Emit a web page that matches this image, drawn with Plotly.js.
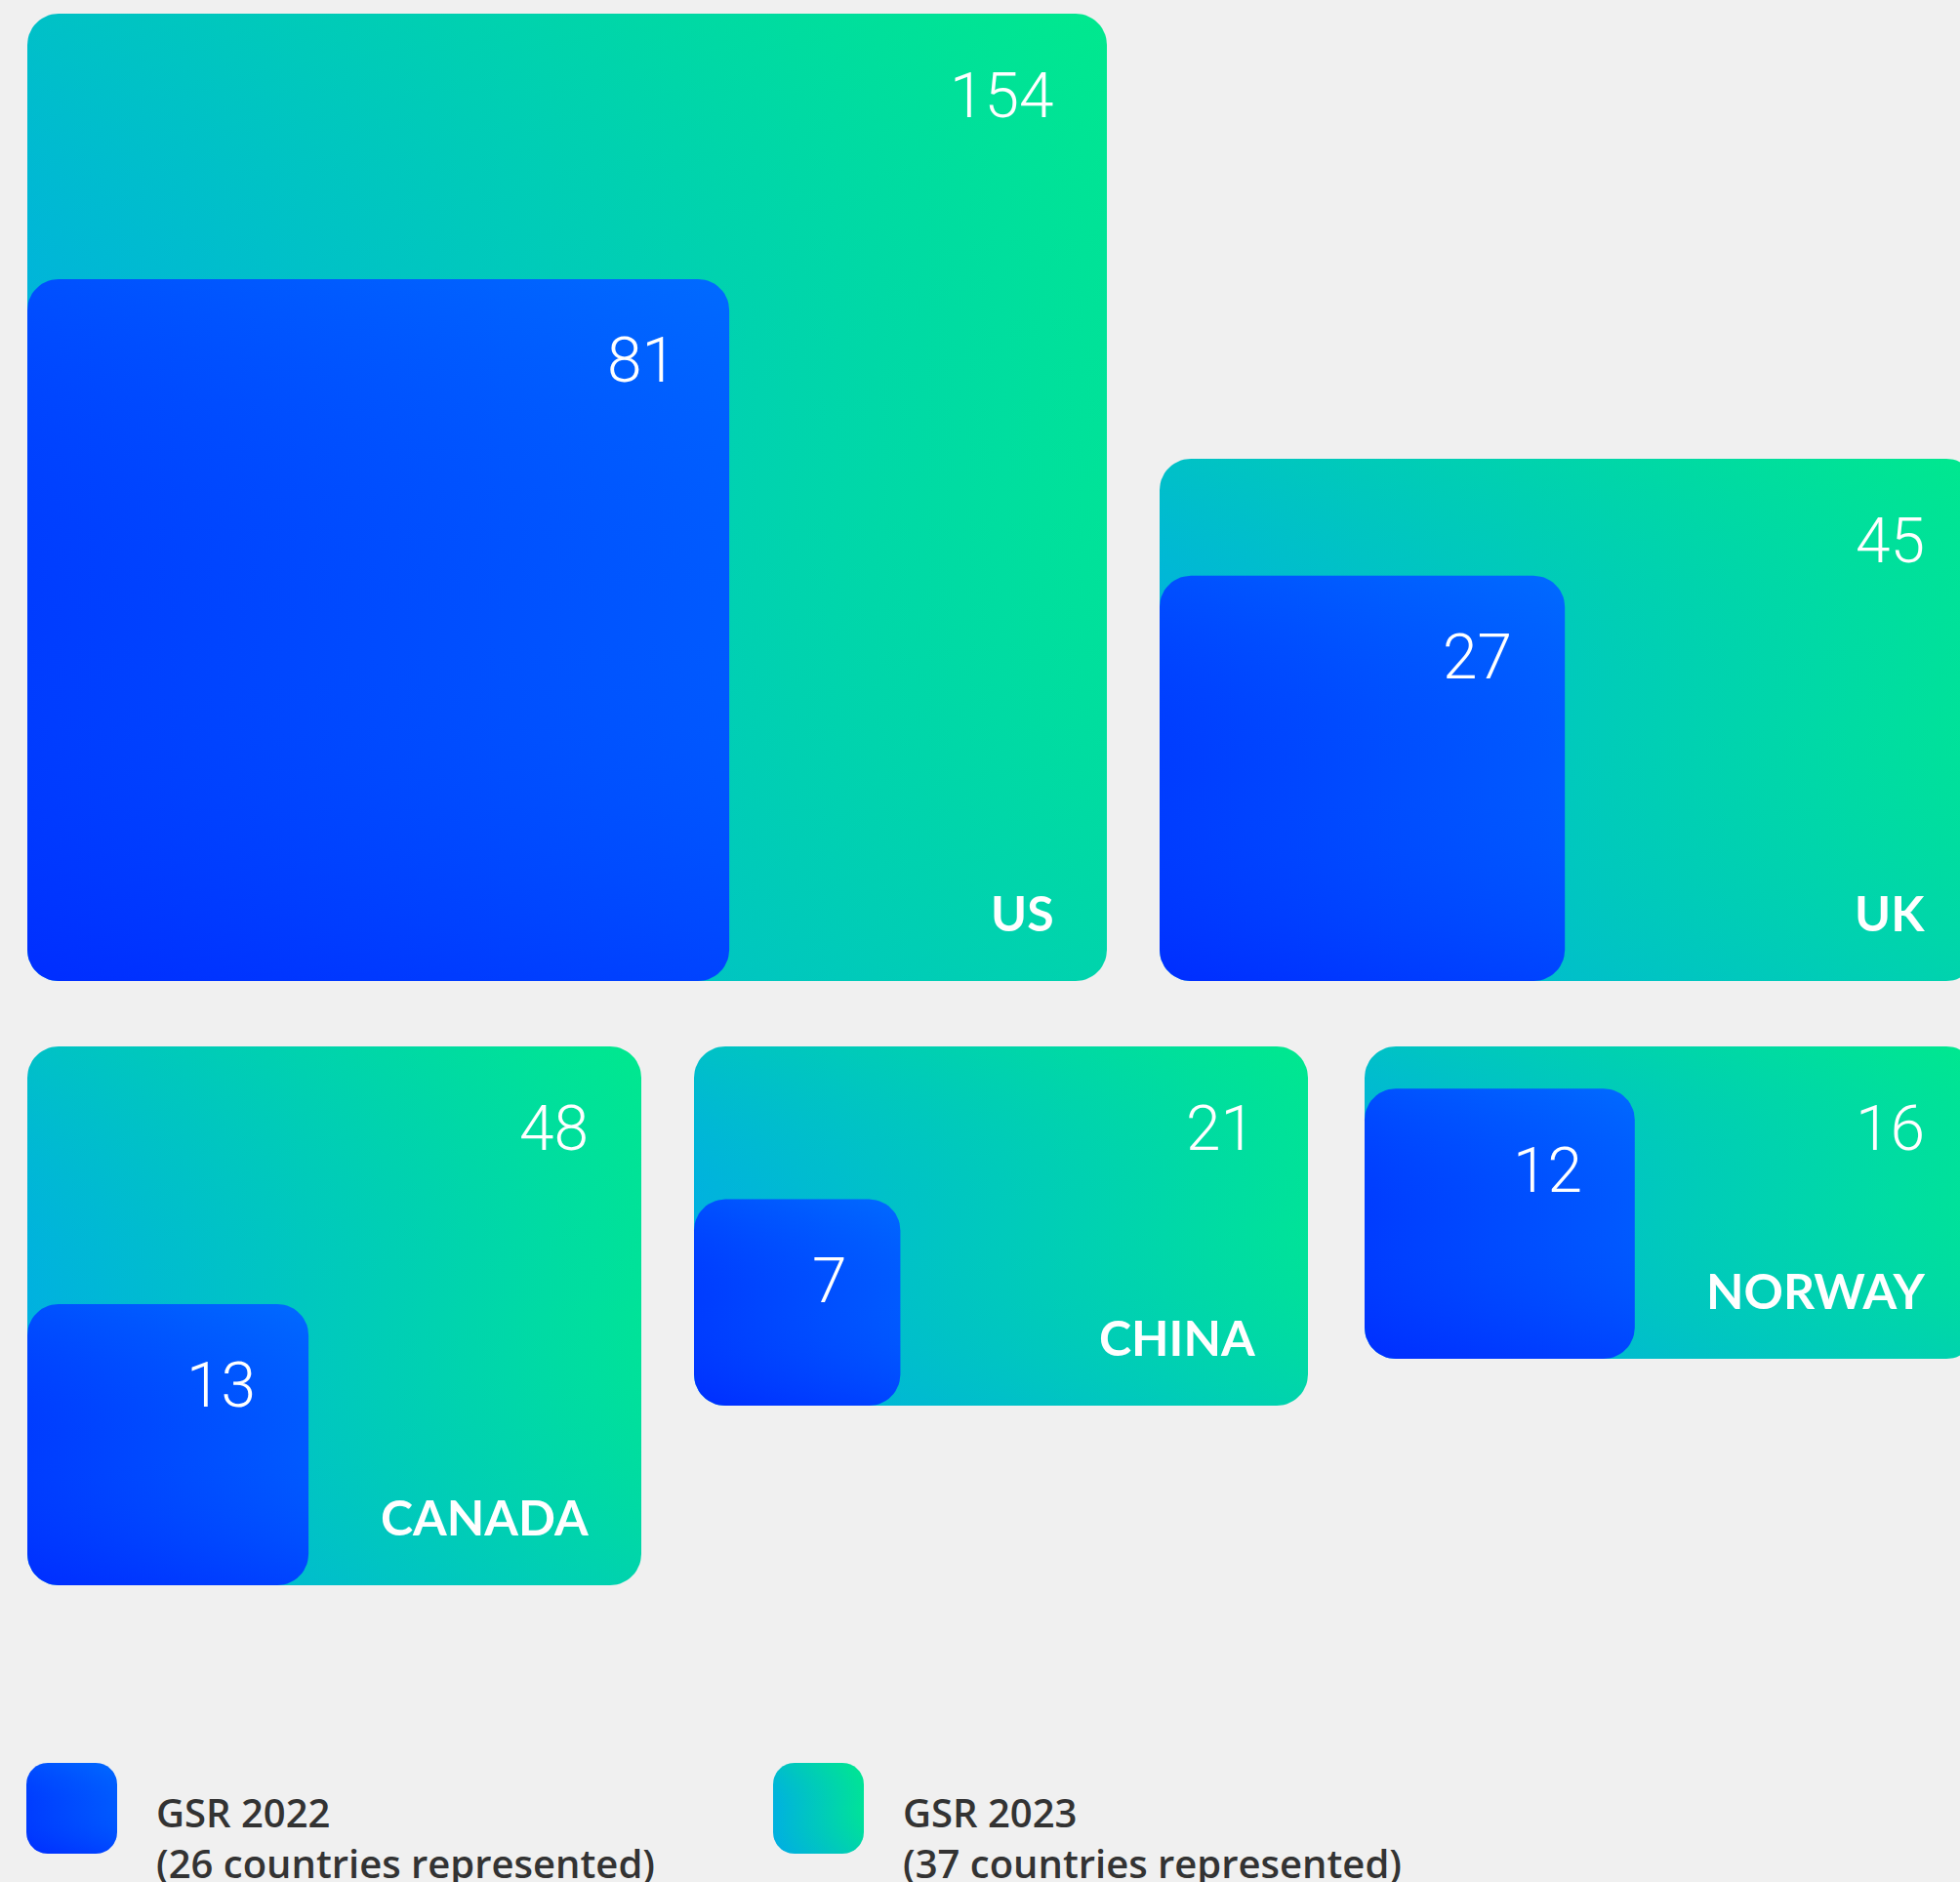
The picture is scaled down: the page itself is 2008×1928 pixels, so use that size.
<!DOCTYPE html>
<html>
<head>
<meta charset="utf-8">
<script src="https://cdn.plot.ly/plotly-3.0.1.min.js"></script>
<style>
  html, body { margin: 0; padding: 0; background: #f0f0f0; }
  #chart { width: 2008px; height: 1928px; }
</style>
</head>
<body>
<div id="chart"></div>
<script>
// ---------------- DATA ----------------
const countries = ['US', 'UK', 'CANADA', 'CHINA', 'NORWAY'];
const gsr2022 = [81, 27, 13, 7, 12];
const gsr2023 = [154, 45, 48, 21, 16];
const legendTitles = ['GSR 2022', 'GSR 2023'];
const legendNotes = ['(26 countries represented)', '(37 countries represented)'];

// ---------------- LAYOUT CONFIG (pixel-unit axes) ----------------
const W = 2008, H = 1928;
// outer (2023) card frames: [x0, y0, x1, y1]
const frames2023 = [
  [28, 14, 1134, 1005],
  [1188, 470, 2026, 1005],
  [28, 1072, 657, 1624],
  [711, 1072, 1340, 1440],
  [1398, 1072, 2026, 1392]
];
const SIDE_PER_SQRT = 79.9;   // 2022 squares: side = k * sqrt(value)
const RADIUS = 32;
const legendSwatches = [[27, 1806, 120, 1899], [792, 1806, 885, 1899]];
const legendTextX = [158, 923];

// gradient styles (vertical scale: 0 = bottom, 1 = top)
const grad2023 = {
  h: [[0, 'rgb(0,177,224)'], [1, 'rgb(0,227,152)']],
  v: [[0, 'rgba(0,150,255,0.2)'], [0.5, 'rgba(0,200,180,0)'], [1, 'rgba(0,255,100,0.2)']]
};
const grad2022 = {
  h: [[0, 'rgb(0,60,255)'], [1, 'rgb(0,90,255)']],
  v: [[0, 'rgba(0,0,255,0.25)'], [0.5, 'rgba(0,80,255,0)'], [1, 'rgba(0,255,255,0.1)']]
};

function roundRect(x0, y0, x1, y1, r) {
  const xs = [], ys = [];
  const n = 14;
  const corners = [
    [x1 - r, y0 + r, -Math.PI / 2, 0],
    [x1 - r, y1 - r, 0, Math.PI / 2],
    [x0 + r, y1 - r, Math.PI / 2, Math.PI],
    [x0 + r, y0 + r, Math.PI, 1.5 * Math.PI]
  ];
  corners.forEach(([cx, cy, a0, a1]) => {
    for (let i = 0; i <= n; i++) {
      const a = a0 + (a1 - a0) * i / n;
      xs.push(cx + r * Math.cos(a));
      ys.push(cy + r * Math.sin(a));
    }
  });
  xs.push(xs[0]); ys.push(ys[0]);
  return { x: xs, y: ys };
}

function gradientCard(box, r, grad) {
  const p = roundRect(box[0], box[1], box[2], box[3], r);
  const base = {
    type: 'scatter', mode: 'lines', x: p.x, y: p.y, fill: 'toself',
    line: { width: 0, color: 'rgba(0,0,0,0)' }, hoverinfo: 'skip', showlegend: false
  };
  return [
    Object.assign({}, base, { fillgradient: { type: 'horizontal', colorscale: grad.h } }),
    Object.assign({}, base, { fillgradient: { type: 'vertical', colorscale: grad.v } })
  ];
}

const traces = [];
const annotations = [];
const numFont = { family: 'Roboto', size: 64, color: '#ffffff', weight: 300 };
const lblFont = { family: 'Lato', size: 50, color: '#ffffff', weight: 700 };
const legFont = { family: 'Open Sans', size: 40, color: '#333333', weight: 600 };

// 2023 cards
frames2023.forEach((f) => {
  traces.push(...gradientCard(f, RADIUS, grad2023));
});
// 2022 squares (sized from values), anchored bottom-left in each card
frames2023.forEach((f, i) => {
  const side = SIDE_PER_SQRT * Math.sqrt(gsr2022[i]);
  const sq = [f[0], f[3] - side, f[0] + side, f[3]];
  traces.push(...gradientCard(sq, RADIUS, grad2022));
  annotations.push({
    x: sq[2] - 52, y: sq[1] + 84, xref: 'x', yref: 'y', xanchor: 'right', yanchor: 'middle',
    text: String(gsr2022[i]), showarrow: false, font: numFont
  });
  annotations.push({
    x: f[2] - 52, y: f[1] + 84, xref: 'x', yref: 'y', xanchor: 'right', yanchor: 'middle',
    text: String(gsr2023[i]), showarrow: false, font: numFont
  });
  annotations.push({
    x: f[2] - 52, y: f[3] - 70.5, xref: 'x', yref: 'y', xanchor: 'right', yanchor: 'middle',
    text: countries[i], showarrow: false, font: lblFont
  });
});

// legend
[grad2022, grad2023].forEach((g, i) => {
  traces.push(...gradientCard(legendSwatches[i], 22, g));
  annotations.push({
    x: legendTextX[i], y: 1882, xref: 'x', yref: 'y', xanchor: 'left', yanchor: 'middle',
    align: 'left',
    text: legendTitles[i] + '<br>' + legendNotes[i], showarrow: false, font: legFont
  });
});

const layout = {
  width: W, height: H,
  margin: { l: 0, r: 0, t: 0, b: 0, pad: 0 },
  paper_bgcolor: '#f0f0f0', plot_bgcolor: '#f0f0f0',
  xaxis: { range: [0, W], visible: false, fixedrange: true },
  yaxis: { range: [H, 0], visible: false, fixedrange: true },
  showlegend: false,
  annotations: annotations
};

Plotly.newPlot('chart', traces, layout, { displayModeBar: false, staticPlot: true });
</script>
</body>
</html>
